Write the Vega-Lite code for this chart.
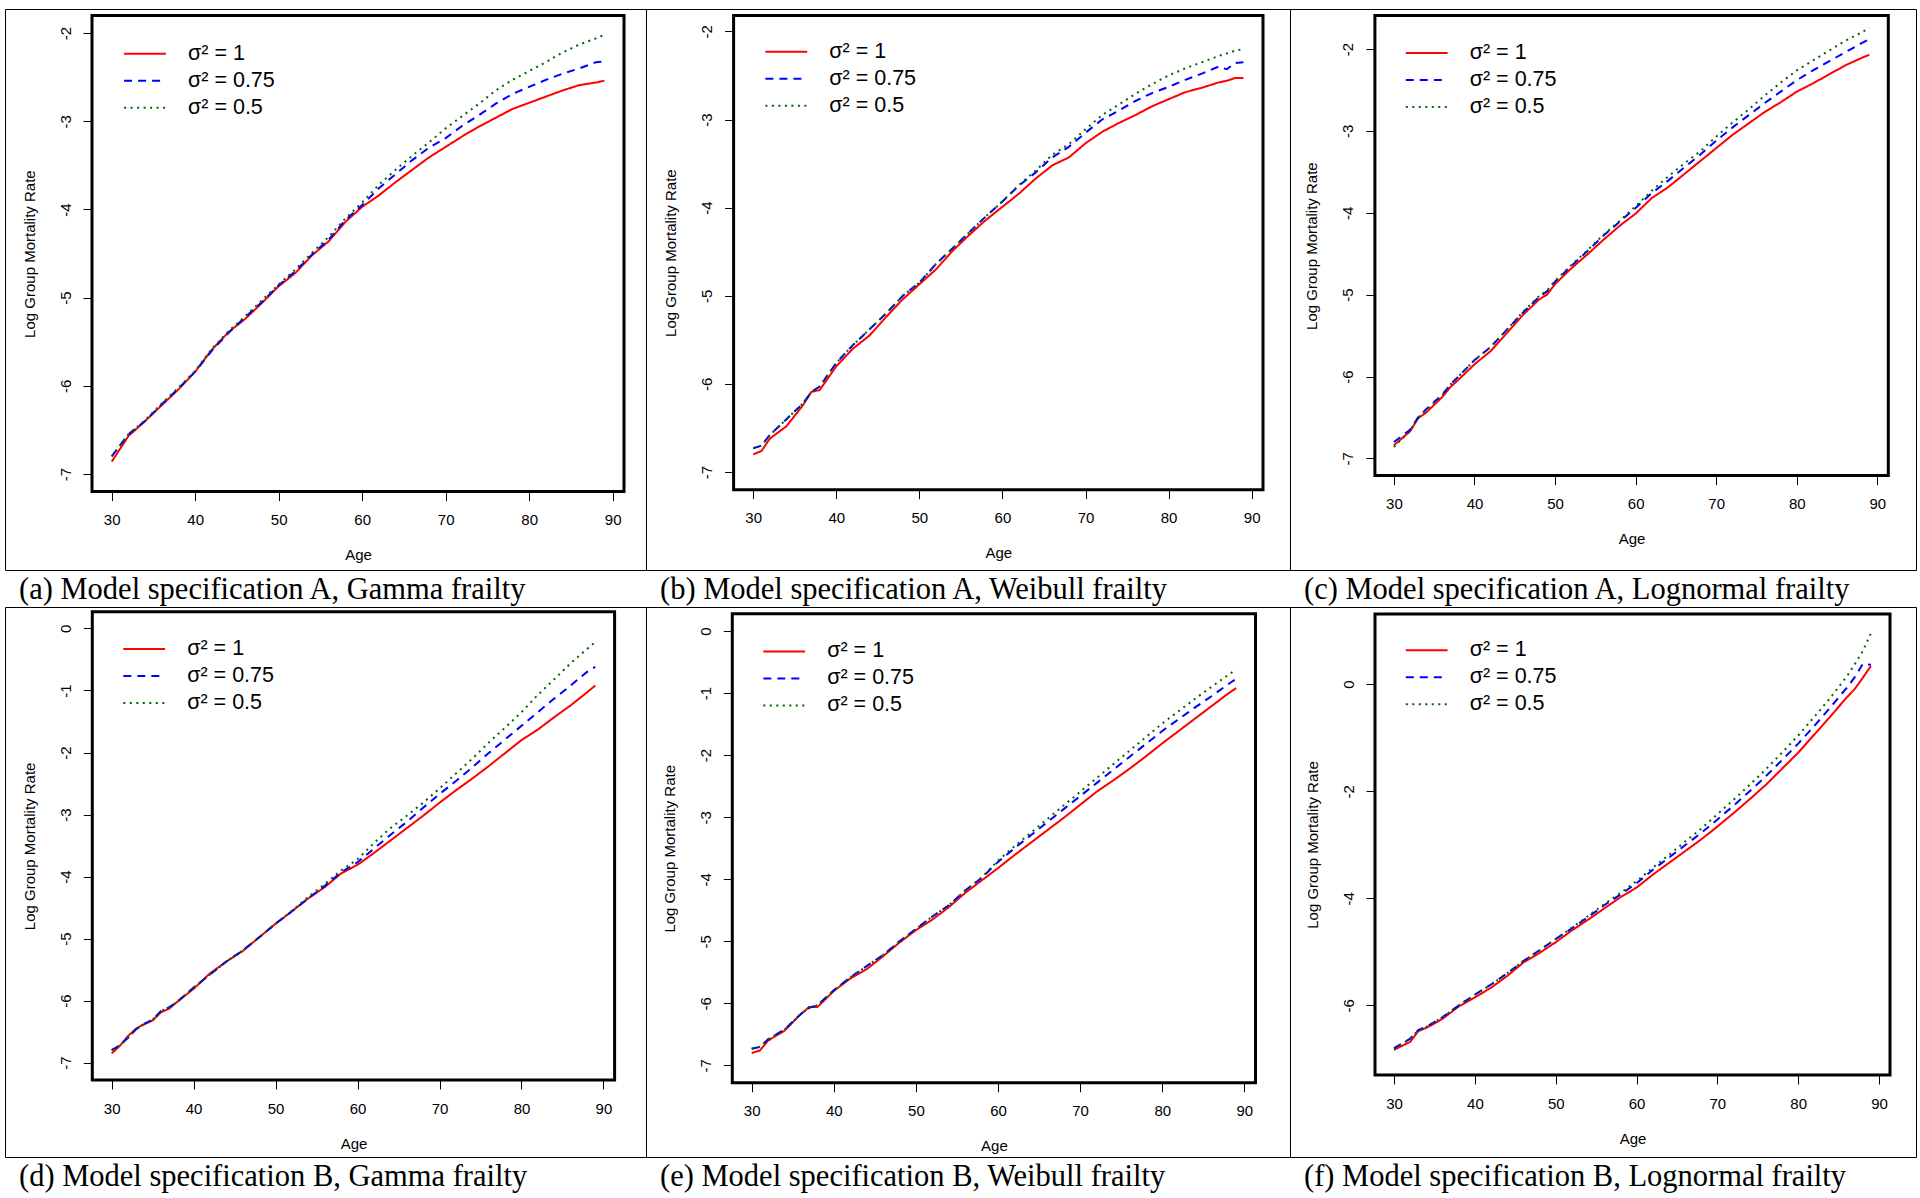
{
"$schema": "https://vega.github.io/schema/vega-lite/v6.json",
"background": "white",
"padding": {"left": 4, "top": 8, "right": 5, "bottom": 5},
"datasets": {
"lines": [
{"panel":"a","sigma":"1","age":30,"rate":-6.86},{"panel":"a","sigma":"1","age":32,"rate":-6.57},{"panel":"a","sigma":"1","age":34,"rate":-6.40},{"panel":"a","sigma":"1","age":36,"rate":-6.22},{"panel":"a","sigma":"1","age":38,"rate":-6.04},{"panel":"a","sigma":"1","age":40,"rate":-5.84},{"panel":"a","sigma":"1","age":42,"rate":-5.59},{"panel":"a","sigma":"1","age":44,"rate":-5.39},{"panel":"a","sigma":"1","age":46,"rate":-5.24},{"panel":"a","sigma":"1","age":48,"rate":-5.06},{"panel":"a","sigma":"1","age":50,"rate":-4.87},{"panel":"a","sigma":"1","age":52,"rate":-4.72},{"panel":"a","sigma":"1","age":54,"rate":-4.52},{"panel":"a","sigma":"1","age":56,"rate":-4.36},{"panel":"a","sigma":"1","age":58,"rate":-4.14},{"panel":"a","sigma":"1","age":60,"rate":-3.97},{"panel":"a","sigma":"1","age":62,"rate":-3.84},{"panel":"a","sigma":"1","age":64,"rate":-3.69},{"panel":"a","sigma":"1","age":66,"rate":-3.55},{"panel":"a","sigma":"1","age":68,"rate":-3.41},{"panel":"a","sigma":"1","age":70,"rate":-3.29},{"panel":"a","sigma":"1","age":72,"rate":-3.17},{"panel":"a","sigma":"1","age":74,"rate":-3.06},{"panel":"a","sigma":"1","age":76,"rate":-2.96},{"panel":"a","sigma":"1","age":78,"rate":-2.86},{"panel":"a","sigma":"1","age":80,"rate":-2.79},{"panel":"a","sigma":"1","age":82,"rate":-2.72},{"panel":"a","sigma":"1","age":84,"rate":-2.65},{"panel":"a","sigma":"1","age":86,"rate":-2.59},{"panel":"a","sigma":"1","age":88,"rate":-2.56},{"panel":"a","sigma":"1","age":89,"rate":-2.54},
{"panel":"a","sigma":"0.75","age":30,"rate":-6.80},{"panel":"a","sigma":"0.75","age":32,"rate":-6.55},{"panel":"a","sigma":"0.75","age":34,"rate":-6.40},{"panel":"a","sigma":"0.75","age":36,"rate":-6.21},{"panel":"a","sigma":"0.75","age":38,"rate":-6.03},{"panel":"a","sigma":"0.75","age":40,"rate":-5.84},{"panel":"a","sigma":"0.75","age":42,"rate":-5.60},{"panel":"a","sigma":"0.75","age":44,"rate":-5.40},{"panel":"a","sigma":"0.75","age":46,"rate":-5.22},{"panel":"a","sigma":"0.75","age":48,"rate":-5.05},{"panel":"a","sigma":"0.75","age":50,"rate":-4.86},{"panel":"a","sigma":"0.75","age":52,"rate":-4.70},{"panel":"a","sigma":"0.75","age":54,"rate":-4.51},{"panel":"a","sigma":"0.75","age":56,"rate":-4.34},{"panel":"a","sigma":"0.75","age":58,"rate":-4.12},{"panel":"a","sigma":"0.75","age":60,"rate":-3.95},{"panel":"a","sigma":"0.75","age":62,"rate":-3.76},{"panel":"a","sigma":"0.75","age":64,"rate":-3.60},{"panel":"a","sigma":"0.75","age":66,"rate":-3.44},{"panel":"a","sigma":"0.75","age":68,"rate":-3.30},{"panel":"a","sigma":"0.75","age":70,"rate":-3.19},{"panel":"a","sigma":"0.75","age":72,"rate":-3.05},{"panel":"a","sigma":"0.75","age":74,"rate":-2.93},{"panel":"a","sigma":"0.75","age":76,"rate":-2.80},{"panel":"a","sigma":"0.75","age":78,"rate":-2.69},{"panel":"a","sigma":"0.75","age":80,"rate":-2.61},{"panel":"a","sigma":"0.75","age":82,"rate":-2.53},{"panel":"a","sigma":"0.75","age":84,"rate":-2.46},{"panel":"a","sigma":"0.75","age":86,"rate":-2.40},{"panel":"a","sigma":"0.75","age":88,"rate":-2.33},{"panel":"a","sigma":"0.75","age":89,"rate":-2.32},
{"panel":"a","sigma":"0.5","age":30,"rate":-6.80},{"panel":"a","sigma":"0.5","age":32,"rate":-6.55},{"panel":"a","sigma":"0.5","age":34,"rate":-6.39},{"panel":"a","sigma":"0.5","age":36,"rate":-6.20},{"panel":"a","sigma":"0.5","age":38,"rate":-6.02},{"panel":"a","sigma":"0.5","age":40,"rate":-5.83},{"panel":"a","sigma":"0.5","age":42,"rate":-5.58},{"panel":"a","sigma":"0.5","age":44,"rate":-5.38},{"panel":"a","sigma":"0.5","age":46,"rate":-5.21},{"panel":"a","sigma":"0.5","age":48,"rate":-5.03},{"panel":"a","sigma":"0.5","age":50,"rate":-4.85},{"panel":"a","sigma":"0.5","age":52,"rate":-4.68},{"panel":"a","sigma":"0.5","age":54,"rate":-4.49},{"panel":"a","sigma":"0.5","age":56,"rate":-4.31},{"panel":"a","sigma":"0.5","age":58,"rate":-4.10},{"panel":"a","sigma":"0.5","age":60,"rate":-3.92},{"panel":"a","sigma":"0.5","age":62,"rate":-3.72},{"panel":"a","sigma":"0.5","age":64,"rate":-3.55},{"panel":"a","sigma":"0.5","age":66,"rate":-3.39},{"panel":"a","sigma":"0.5","age":68,"rate":-3.24},{"panel":"a","sigma":"0.5","age":70,"rate":-3.08},{"panel":"a","sigma":"0.5","age":72,"rate":-2.94},{"panel":"a","sigma":"0.5","age":74,"rate":-2.80},{"panel":"a","sigma":"0.5","age":76,"rate":-2.65},{"panel":"a","sigma":"0.5","age":78,"rate":-2.53},{"panel":"a","sigma":"0.5","age":80,"rate":-2.43},{"panel":"a","sigma":"0.5","age":82,"rate":-2.33},{"panel":"a","sigma":"0.5","age":84,"rate":-2.22},{"panel":"a","sigma":"0.5","age":86,"rate":-2.13},{"panel":"a","sigma":"0.5","age":88,"rate":-2.06},{"panel":"a","sigma":"0.5","age":89,"rate":-2.02},
{"panel":"b","sigma":"1","age":30,"rate":-6.80},{"panel":"b","sigma":"1","age":31,"rate":-6.76},{"panel":"b","sigma":"1","age":32,"rate":-6.62},{"panel":"b","sigma":"1","age":34,"rate":-6.48},{"panel":"b","sigma":"1","age":36,"rate":-6.24},{"panel":"b","sigma":"1","age":37,"rate":-6.09},{"panel":"b","sigma":"1","age":38,"rate":-6.07},{"panel":"b","sigma":"1","age":40,"rate":-5.80},{"panel":"b","sigma":"1","age":42,"rate":-5.60},{"panel":"b","sigma":"1","age":44,"rate":-5.45},{"panel":"b","sigma":"1","age":46,"rate":-5.24},{"panel":"b","sigma":"1","age":48,"rate":-5.04},{"panel":"b","sigma":"1","age":50,"rate":-4.87},{"panel":"b","sigma":"1","age":52,"rate":-4.70},{"panel":"b","sigma":"1","age":54,"rate":-4.49},{"panel":"b","sigma":"1","age":56,"rate":-4.31},{"panel":"b","sigma":"1","age":58,"rate":-4.14},{"panel":"b","sigma":"1","age":60,"rate":-3.99},{"panel":"b","sigma":"1","age":62,"rate":-3.84},{"panel":"b","sigma":"1","age":64,"rate":-3.67},{"panel":"b","sigma":"1","age":66,"rate":-3.52},{"panel":"b","sigma":"1","age":68,"rate":-3.43},{"panel":"b","sigma":"1","age":70,"rate":-3.27},{"panel":"b","sigma":"1","age":72,"rate":-3.14},{"panel":"b","sigma":"1","age":74,"rate":-3.04},{"panel":"b","sigma":"1","age":76,"rate":-2.95},{"panel":"b","sigma":"1","age":78,"rate":-2.85},{"panel":"b","sigma":"1","age":80,"rate":-2.77},{"panel":"b","sigma":"1","age":82,"rate":-2.69},{"panel":"b","sigma":"1","age":84,"rate":-2.64},{"panel":"b","sigma":"1","age":86,"rate":-2.58},{"panel":"b","sigma":"1","age":87,"rate":-2.56},{"panel":"b","sigma":"1","age":88,"rate":-2.53},{"panel":"b","sigma":"1","age":89,"rate":-2.53},
{"panel":"b","sigma":"0.75","age":30,"rate":-6.73},{"panel":"b","sigma":"0.75","age":31,"rate":-6.70},{"panel":"b","sigma":"0.75","age":32,"rate":-6.58},{"panel":"b","sigma":"0.75","age":34,"rate":-6.40},{"panel":"b","sigma":"0.75","age":36,"rate":-6.22},{"panel":"b","sigma":"0.75","age":37,"rate":-6.09},{"panel":"b","sigma":"0.75","age":38,"rate":-6.03},{"panel":"b","sigma":"0.75","age":40,"rate":-5.76},{"panel":"b","sigma":"0.75","age":42,"rate":-5.56},{"panel":"b","sigma":"0.75","age":44,"rate":-5.38},{"panel":"b","sigma":"0.75","age":46,"rate":-5.20},{"panel":"b","sigma":"0.75","age":48,"rate":-5.00},{"panel":"b","sigma":"0.75","age":50,"rate":-4.85},{"panel":"b","sigma":"0.75","age":52,"rate":-4.64},{"panel":"b","sigma":"0.75","age":54,"rate":-4.46},{"panel":"b","sigma":"0.75","age":56,"rate":-4.28},{"panel":"b","sigma":"0.75","age":58,"rate":-4.10},{"panel":"b","sigma":"0.75","age":60,"rate":-3.93},{"panel":"b","sigma":"0.75","age":62,"rate":-3.75},{"panel":"b","sigma":"0.75","age":64,"rate":-3.60},{"panel":"b","sigma":"0.75","age":66,"rate":-3.43},{"panel":"b","sigma":"0.75","age":68,"rate":-3.31},{"panel":"b","sigma":"0.75","age":70,"rate":-3.15},{"panel":"b","sigma":"0.75","age":72,"rate":-3.00},{"panel":"b","sigma":"0.75","age":74,"rate":-2.90},{"panel":"b","sigma":"0.75","age":76,"rate":-2.79},{"panel":"b","sigma":"0.75","age":78,"rate":-2.70},{"panel":"b","sigma":"0.75","age":80,"rate":-2.63},{"panel":"b","sigma":"0.75","age":82,"rate":-2.55},{"panel":"b","sigma":"0.75","age":84,"rate":-2.48},{"panel":"b","sigma":"0.75","age":86,"rate":-2.40},{"panel":"b","sigma":"0.75","age":87,"rate":-2.43},{"panel":"b","sigma":"0.75","age":88,"rate":-2.36},{"panel":"b","sigma":"0.75","age":89,"rate":-2.35},
{"panel":"b","sigma":"0.5","age":30,"rate":-6.73},{"panel":"b","sigma":"0.5","age":31,"rate":-6.70},{"panel":"b","sigma":"0.5","age":32,"rate":-6.58},{"panel":"b","sigma":"0.5","age":34,"rate":-6.40},{"panel":"b","sigma":"0.5","age":36,"rate":-6.22},{"panel":"b","sigma":"0.5","age":37,"rate":-6.09},{"panel":"b","sigma":"0.5","age":38,"rate":-6.03},{"panel":"b","sigma":"0.5","age":40,"rate":-5.76},{"panel":"b","sigma":"0.5","age":42,"rate":-5.56},{"panel":"b","sigma":"0.5","age":44,"rate":-5.38},{"panel":"b","sigma":"0.5","age":46,"rate":-5.20},{"panel":"b","sigma":"0.5","age":48,"rate":-5.00},{"panel":"b","sigma":"0.5","age":50,"rate":-4.85},{"panel":"b","sigma":"0.5","age":52,"rate":-4.64},{"panel":"b","sigma":"0.5","age":54,"rate":-4.46},{"panel":"b","sigma":"0.5","age":56,"rate":-4.28},{"panel":"b","sigma":"0.5","age":58,"rate":-4.10},{"panel":"b","sigma":"0.5","age":60,"rate":-3.93},{"panel":"b","sigma":"0.5","age":62,"rate":-3.74},{"panel":"b","sigma":"0.5","age":64,"rate":-3.58},{"panel":"b","sigma":"0.5","age":66,"rate":-3.40},{"panel":"b","sigma":"0.5","age":68,"rate":-3.28},{"panel":"b","sigma":"0.5","age":70,"rate":-3.11},{"panel":"b","sigma":"0.5","age":72,"rate":-2.95},{"panel":"b","sigma":"0.5","age":74,"rate":-2.83},{"panel":"b","sigma":"0.5","age":76,"rate":-2.71},{"panel":"b","sigma":"0.5","age":78,"rate":-2.60},{"panel":"b","sigma":"0.5","age":80,"rate":-2.50},{"panel":"b","sigma":"0.5","age":82,"rate":-2.42},{"panel":"b","sigma":"0.5","age":84,"rate":-2.35},{"panel":"b","sigma":"0.5","age":86,"rate":-2.28},{"panel":"b","sigma":"0.5","age":87,"rate":-2.25},{"panel":"b","sigma":"0.5","age":88,"rate":-2.22},{"panel":"b","sigma":"0.5","age":89,"rate":-2.20},
{"panel":"c","sigma":"1","age":30,"rate":-6.84},{"panel":"c","sigma":"1","age":32,"rate":-6.67},{"panel":"c","sigma":"1","age":33,"rate":-6.51},{"panel":"c","sigma":"1","age":34,"rate":-6.44},{"panel":"c","sigma":"1","age":36,"rate":-6.25},{"panel":"c","sigma":"1","age":37,"rate":-6.13},{"panel":"c","sigma":"1","age":38,"rate":-6.04},{"panel":"c","sigma":"1","age":40,"rate":-5.85},{"panel":"c","sigma":"1","age":42,"rate":-5.69},{"panel":"c","sigma":"1","age":44,"rate":-5.47},{"panel":"c","sigma":"1","age":46,"rate":-5.25},{"panel":"c","sigma":"1","age":48,"rate":-5.06},{"panel":"c","sigma":"1","age":49,"rate":-5.00},{"panel":"c","sigma":"1","age":50,"rate":-4.87},{"panel":"c","sigma":"1","age":52,"rate":-4.68},{"panel":"c","sigma":"1","age":54,"rate":-4.51},{"panel":"c","sigma":"1","age":56,"rate":-4.33},{"panel":"c","sigma":"1","age":58,"rate":-4.16},{"panel":"c","sigma":"1","age":60,"rate":-4.01},{"panel":"c","sigma":"1","age":62,"rate":-3.82},{"panel":"c","sigma":"1","age":64,"rate":-3.69},{"panel":"c","sigma":"1","age":66,"rate":-3.53},{"panel":"c","sigma":"1","age":68,"rate":-3.37},{"panel":"c","sigma":"1","age":70,"rate":-3.21},{"panel":"c","sigma":"1","age":72,"rate":-3.05},{"panel":"c","sigma":"1","age":74,"rate":-2.91},{"panel":"c","sigma":"1","age":76,"rate":-2.77},{"panel":"c","sigma":"1","age":78,"rate":-2.65},{"panel":"c","sigma":"1","age":80,"rate":-2.52},{"panel":"c","sigma":"1","age":82,"rate":-2.42},{"panel":"c","sigma":"1","age":84,"rate":-2.31},{"panel":"c","sigma":"1","age":86,"rate":-2.20},{"panel":"c","sigma":"1","age":88,"rate":-2.11},{"panel":"c","sigma":"1","age":89,"rate":-2.07},
{"panel":"c","sigma":"0.75","age":30,"rate":-6.80},{"panel":"c","sigma":"0.75","age":32,"rate":-6.65},{"panel":"c","sigma":"0.75","age":33,"rate":-6.50},{"panel":"c","sigma":"0.75","age":34,"rate":-6.40},{"panel":"c","sigma":"0.75","age":36,"rate":-6.22},{"panel":"c","sigma":"0.75","age":37,"rate":-6.10},{"panel":"c","sigma":"0.75","age":38,"rate":-6.00},{"panel":"c","sigma":"0.75","age":40,"rate":-5.80},{"panel":"c","sigma":"0.75","age":42,"rate":-5.64},{"panel":"c","sigma":"0.75","age":44,"rate":-5.43},{"panel":"c","sigma":"0.75","age":46,"rate":-5.22},{"panel":"c","sigma":"0.75","age":48,"rate":-5.03},{"panel":"c","sigma":"0.75","age":49,"rate":-4.96},{"panel":"c","sigma":"0.75","age":50,"rate":-4.84},{"panel":"c","sigma":"0.75","age":52,"rate":-4.65},{"panel":"c","sigma":"0.75","age":54,"rate":-4.47},{"panel":"c","sigma":"0.75","age":56,"rate":-4.28},{"panel":"c","sigma":"0.75","age":58,"rate":-4.11},{"panel":"c","sigma":"0.75","age":60,"rate":-3.94},{"panel":"c","sigma":"0.75","age":62,"rate":-3.76},{"panel":"c","sigma":"0.75","age":64,"rate":-3.61},{"panel":"c","sigma":"0.75","age":66,"rate":-3.45},{"panel":"c","sigma":"0.75","age":68,"rate":-3.29},{"panel":"c","sigma":"0.75","age":70,"rate":-3.12},{"panel":"c","sigma":"0.75","age":72,"rate":-2.96},{"panel":"c","sigma":"0.75","age":74,"rate":-2.81},{"panel":"c","sigma":"0.75","age":76,"rate":-2.66},{"panel":"c","sigma":"0.75","age":78,"rate":-2.52},{"panel":"c","sigma":"0.75","age":80,"rate":-2.38},{"panel":"c","sigma":"0.75","age":82,"rate":-2.26},{"panel":"c","sigma":"0.75","age":84,"rate":-2.15},{"panel":"c","sigma":"0.75","age":86,"rate":-2.04},{"panel":"c","sigma":"0.75","age":88,"rate":-1.93},{"panel":"c","sigma":"0.75","age":89,"rate":-1.88},
{"panel":"c","sigma":"0.5","age":30,"rate":-6.86},{"panel":"c","sigma":"0.5","age":32,"rate":-6.66},{"panel":"c","sigma":"0.5","age":33,"rate":-6.50},{"panel":"c","sigma":"0.5","age":34,"rate":-6.41},{"panel":"c","sigma":"0.5","age":36,"rate":-6.23},{"panel":"c","sigma":"0.5","age":37,"rate":-6.10},{"panel":"c","sigma":"0.5","age":38,"rate":-6.00},{"panel":"c","sigma":"0.5","age":40,"rate":-5.80},{"panel":"c","sigma":"0.5","age":42,"rate":-5.64},{"panel":"c","sigma":"0.5","age":44,"rate":-5.43},{"panel":"c","sigma":"0.5","age":46,"rate":-5.21},{"panel":"c","sigma":"0.5","age":48,"rate":-5.02},{"panel":"c","sigma":"0.5","age":49,"rate":-4.95},{"panel":"c","sigma":"0.5","age":50,"rate":-4.83},{"panel":"c","sigma":"0.5","age":52,"rate":-4.64},{"panel":"c","sigma":"0.5","age":54,"rate":-4.46},{"panel":"c","sigma":"0.5","age":56,"rate":-4.27},{"panel":"c","sigma":"0.5","age":58,"rate":-4.10},{"panel":"c","sigma":"0.5","age":60,"rate":-3.92},{"panel":"c","sigma":"0.5","age":62,"rate":-3.73},{"panel":"c","sigma":"0.5","age":64,"rate":-3.56},{"panel":"c","sigma":"0.5","age":66,"rate":-3.40},{"panel":"c","sigma":"0.5","age":68,"rate":-3.25},{"panel":"c","sigma":"0.5","age":70,"rate":-3.07},{"panel":"c","sigma":"0.5","age":72,"rate":-2.90},{"panel":"c","sigma":"0.5","age":74,"rate":-2.74},{"panel":"c","sigma":"0.5","age":76,"rate":-2.57},{"panel":"c","sigma":"0.5","age":78,"rate":-2.41},{"panel":"c","sigma":"0.5","age":80,"rate":-2.26},{"panel":"c","sigma":"0.5","age":82,"rate":-2.14},{"panel":"c","sigma":"0.5","age":84,"rate":-2.02},{"panel":"c","sigma":"0.5","age":86,"rate":-1.90},{"panel":"c","sigma":"0.5","age":88,"rate":-1.80},{"panel":"c","sigma":"0.5","age":89,"rate":-1.74},
{"panel":"d","sigma":"1","age":30,"rate":-6.85},{"panel":"d","sigma":"1","age":31,"rate":-6.73},{"panel":"d","sigma":"1","age":32,"rate":-6.57},{"panel":"d","sigma":"1","age":33,"rate":-6.45},{"panel":"d","sigma":"1","age":34,"rate":-6.38},{"panel":"d","sigma":"1","age":35,"rate":-6.32},{"panel":"d","sigma":"1","age":36,"rate":-6.19},{"panel":"d","sigma":"1","age":37,"rate":-6.13},{"panel":"d","sigma":"1","age":38,"rate":-6.02},{"panel":"d","sigma":"1","age":40,"rate":-5.81},{"panel":"d","sigma":"1","age":42,"rate":-5.56},{"panel":"d","sigma":"1","age":44,"rate":-5.37},{"panel":"d","sigma":"1","age":46,"rate":-5.20},{"panel":"d","sigma":"1","age":48,"rate":-4.98},{"panel":"d","sigma":"1","age":50,"rate":-4.76},{"panel":"d","sigma":"1","age":52,"rate":-4.56},{"panel":"d","sigma":"1","age":54,"rate":-4.35},{"panel":"d","sigma":"1","age":56,"rate":-4.17},{"panel":"d","sigma":"1","age":58,"rate":-3.95},{"panel":"d","sigma":"1","age":60,"rate":-3.81},{"panel":"d","sigma":"1","age":62,"rate":-3.62},{"panel":"d","sigma":"1","age":64,"rate":-3.42},{"panel":"d","sigma":"1","age":66,"rate":-3.22},{"panel":"d","sigma":"1","age":68,"rate":-3.02},{"panel":"d","sigma":"1","age":70,"rate":-2.81},{"panel":"d","sigma":"1","age":72,"rate":-2.61},{"panel":"d","sigma":"1","age":74,"rate":-2.42},{"panel":"d","sigma":"1","age":76,"rate":-2.22},{"panel":"d","sigma":"1","age":78,"rate":-2.01},{"panel":"d","sigma":"1","age":80,"rate":-1.80},{"panel":"d","sigma":"1","age":82,"rate":-1.63},{"panel":"d","sigma":"1","age":84,"rate":-1.43},{"panel":"d","sigma":"1","age":86,"rate":-1.24},{"panel":"d","sigma":"1","age":88,"rate":-1.03},{"panel":"d","sigma":"1","age":89,"rate":-0.92},
{"panel":"d","sigma":"0.75","age":30,"rate":-6.80},{"panel":"d","sigma":"0.75","age":31,"rate":-6.72},{"panel":"d","sigma":"0.75","age":32,"rate":-6.60},{"panel":"d","sigma":"0.75","age":33,"rate":-6.46},{"panel":"d","sigma":"0.75","age":34,"rate":-6.37},{"panel":"d","sigma":"0.75","age":35,"rate":-6.31},{"panel":"d","sigma":"0.75","age":36,"rate":-6.17},{"panel":"d","sigma":"0.75","age":37,"rate":-6.11},{"panel":"d","sigma":"0.75","age":38,"rate":-6.02},{"panel":"d","sigma":"0.75","age":40,"rate":-5.79},{"panel":"d","sigma":"0.75","age":42,"rate":-5.58},{"panel":"d","sigma":"0.75","age":44,"rate":-5.37},{"panel":"d","sigma":"0.75","age":46,"rate":-5.19},{"panel":"d","sigma":"0.75","age":48,"rate":-4.98},{"panel":"d","sigma":"0.75","age":50,"rate":-4.76},{"panel":"d","sigma":"0.75","age":52,"rate":-4.56},{"panel":"d","sigma":"0.75","age":54,"rate":-4.35},{"panel":"d","sigma":"0.75","age":56,"rate":-4.15},{"panel":"d","sigma":"0.75","age":58,"rate":-3.93},{"panel":"d","sigma":"0.75","age":60,"rate":-3.77},{"panel":"d","sigma":"0.75","age":62,"rate":-3.55},{"panel":"d","sigma":"0.75","age":64,"rate":-3.33},{"panel":"d","sigma":"0.75","age":66,"rate":-3.12},{"panel":"d","sigma":"0.75","age":68,"rate":-2.89},{"panel":"d","sigma":"0.75","age":70,"rate":-2.67},{"panel":"d","sigma":"0.75","age":72,"rate":-2.46},{"panel":"d","sigma":"0.75","age":74,"rate":-2.24},{"panel":"d","sigma":"0.75","age":76,"rate":-2.01},{"panel":"d","sigma":"0.75","age":78,"rate":-1.79},{"panel":"d","sigma":"0.75","age":80,"rate":-1.57},{"panel":"d","sigma":"0.75","age":82,"rate":-1.35},{"panel":"d","sigma":"0.75","age":84,"rate":-1.13},{"panel":"d","sigma":"0.75","age":86,"rate":-0.92},{"panel":"d","sigma":"0.75","age":88,"rate":-0.70},{"panel":"d","sigma":"0.75","age":89,"rate":-0.62},
{"panel":"d","sigma":"0.5","age":30,"rate":-6.80},{"panel":"d","sigma":"0.5","age":31,"rate":-6.72},{"panel":"d","sigma":"0.5","age":32,"rate":-6.60},{"panel":"d","sigma":"0.5","age":33,"rate":-6.46},{"panel":"d","sigma":"0.5","age":34,"rate":-6.37},{"panel":"d","sigma":"0.5","age":35,"rate":-6.31},{"panel":"d","sigma":"0.5","age":36,"rate":-6.17},{"panel":"d","sigma":"0.5","age":37,"rate":-6.11},{"panel":"d","sigma":"0.5","age":38,"rate":-6.02},{"panel":"d","sigma":"0.5","age":40,"rate":-5.79},{"panel":"d","sigma":"0.5","age":42,"rate":-5.58},{"panel":"d","sigma":"0.5","age":44,"rate":-5.37},{"panel":"d","sigma":"0.5","age":46,"rate":-5.19},{"panel":"d","sigma":"0.5","age":48,"rate":-4.98},{"panel":"d","sigma":"0.5","age":50,"rate":-4.76},{"panel":"d","sigma":"0.5","age":52,"rate":-4.55},{"panel":"d","sigma":"0.5","age":54,"rate":-4.33},{"panel":"d","sigma":"0.5","age":56,"rate":-4.12},{"panel":"d","sigma":"0.5","age":58,"rate":-3.90},{"panel":"d","sigma":"0.5","age":60,"rate":-3.72},{"panel":"d","sigma":"0.5","age":62,"rate":-3.46},{"panel":"d","sigma":"0.5","age":64,"rate":-3.22},{"panel":"d","sigma":"0.5","age":66,"rate":-3.02},{"panel":"d","sigma":"0.5","age":68,"rate":-2.81},{"panel":"d","sigma":"0.5","age":70,"rate":-2.58},{"panel":"d","sigma":"0.5","age":72,"rate":-2.34},{"panel":"d","sigma":"0.5","age":74,"rate":-2.10},{"panel":"d","sigma":"0.5","age":76,"rate":-1.84},{"panel":"d","sigma":"0.5","age":78,"rate":-1.60},{"panel":"d","sigma":"0.5","age":80,"rate":-1.35},{"panel":"d","sigma":"0.5","age":82,"rate":-1.07},{"panel":"d","sigma":"0.5","age":84,"rate":-0.82},{"panel":"d","sigma":"0.5","age":86,"rate":-0.56},{"panel":"d","sigma":"0.5","age":88,"rate":-0.33},{"panel":"d","sigma":"0.5","age":89,"rate":-0.22},
{"panel":"e","sigma":"1","age":30,"rate":-6.80},{"panel":"e","sigma":"1","age":31,"rate":-6.76},{"panel":"e","sigma":"1","age":32,"rate":-6.60},{"panel":"e","sigma":"1","age":34,"rate":-6.44},{"panel":"e","sigma":"1","age":36,"rate":-6.17},{"panel":"e","sigma":"1","age":37,"rate":-6.06},{"panel":"e","sigma":"1","age":38,"rate":-6.06},{"panel":"e","sigma":"1","age":40,"rate":-5.80},{"panel":"e","sigma":"1","age":42,"rate":-5.60},{"panel":"e","sigma":"1","age":44,"rate":-5.45},{"panel":"e","sigma":"1","age":46,"rate":-5.24},{"panel":"e","sigma":"1","age":48,"rate":-5.02},{"panel":"e","sigma":"1","age":50,"rate":-4.82},{"panel":"e","sigma":"1","age":52,"rate":-4.65},{"panel":"e","sigma":"1","age":54,"rate":-4.45},{"panel":"e","sigma":"1","age":56,"rate":-4.22},{"panel":"e","sigma":"1","age":58,"rate":-4.02},{"panel":"e","sigma":"1","age":60,"rate":-3.82},{"panel":"e","sigma":"1","age":62,"rate":-3.61},{"panel":"e","sigma":"1","age":64,"rate":-3.41},{"panel":"e","sigma":"1","age":66,"rate":-3.21},{"panel":"e","sigma":"1","age":68,"rate":-3.01},{"panel":"e","sigma":"1","age":70,"rate":-2.80},{"panel":"e","sigma":"1","age":72,"rate":-2.59},{"panel":"e","sigma":"1","age":74,"rate":-2.41},{"panel":"e","sigma":"1","age":76,"rate":-2.22},{"panel":"e","sigma":"1","age":78,"rate":-2.02},{"panel":"e","sigma":"1","age":80,"rate":-1.81},{"panel":"e","sigma":"1","age":82,"rate":-1.61},{"panel":"e","sigma":"1","age":84,"rate":-1.41},{"panel":"e","sigma":"1","age":86,"rate":-1.21},{"panel":"e","sigma":"1","age":88,"rate":-1.01},{"panel":"e","sigma":"1","age":89,"rate":-0.92},
{"panel":"e","sigma":"0.75","age":30,"rate":-6.73},{"panel":"e","sigma":"0.75","age":31,"rate":-6.70},{"panel":"e","sigma":"0.75","age":32,"rate":-6.58},{"panel":"e","sigma":"0.75","age":34,"rate":-6.42},{"panel":"e","sigma":"0.75","age":36,"rate":-6.17},{"panel":"e","sigma":"0.75","age":37,"rate":-6.07},{"panel":"e","sigma":"0.75","age":38,"rate":-6.03},{"panel":"e","sigma":"0.75","age":40,"rate":-5.79},{"panel":"e","sigma":"0.75","age":42,"rate":-5.58},{"panel":"e","sigma":"0.75","age":44,"rate":-5.40},{"panel":"e","sigma":"0.75","age":46,"rate":-5.22},{"panel":"e","sigma":"0.75","age":48,"rate":-5.00},{"panel":"e","sigma":"0.75","age":50,"rate":-4.80},{"panel":"e","sigma":"0.75","age":52,"rate":-4.60},{"panel":"e","sigma":"0.75","age":54,"rate":-4.42},{"panel":"e","sigma":"0.75","age":56,"rate":-4.18},{"panel":"e","sigma":"0.75","age":58,"rate":-3.98},{"panel":"e","sigma":"0.75","age":60,"rate":-3.72},{"panel":"e","sigma":"0.75","age":62,"rate":-3.50},{"panel":"e","sigma":"0.75","age":64,"rate":-3.29},{"panel":"e","sigma":"0.75","age":66,"rate":-3.08},{"panel":"e","sigma":"0.75","age":68,"rate":-2.87},{"panel":"e","sigma":"0.75","age":70,"rate":-2.66},{"panel":"e","sigma":"0.75","age":72,"rate":-2.45},{"panel":"e","sigma":"0.75","age":74,"rate":-2.24},{"panel":"e","sigma":"0.75","age":76,"rate":-2.03},{"panel":"e","sigma":"0.75","age":78,"rate":-1.82},{"panel":"e","sigma":"0.75","age":80,"rate":-1.61},{"panel":"e","sigma":"0.75","age":82,"rate":-1.42},{"panel":"e","sigma":"0.75","age":84,"rate":-1.23},{"panel":"e","sigma":"0.75","age":86,"rate":-1.05},{"panel":"e","sigma":"0.75","age":88,"rate":-0.86},{"panel":"e","sigma":"0.75","age":89,"rate":-0.77},
{"panel":"e","sigma":"0.5","age":30,"rate":-6.73},{"panel":"e","sigma":"0.5","age":31,"rate":-6.70},{"panel":"e","sigma":"0.5","age":32,"rate":-6.58},{"panel":"e","sigma":"0.5","age":34,"rate":-6.42},{"panel":"e","sigma":"0.5","age":36,"rate":-6.17},{"panel":"e","sigma":"0.5","age":37,"rate":-6.07},{"panel":"e","sigma":"0.5","age":38,"rate":-6.03},{"panel":"e","sigma":"0.5","age":40,"rate":-5.79},{"panel":"e","sigma":"0.5","age":42,"rate":-5.58},{"panel":"e","sigma":"0.5","age":44,"rate":-5.40},{"panel":"e","sigma":"0.5","age":46,"rate":-5.22},{"panel":"e","sigma":"0.5","age":48,"rate":-5.00},{"panel":"e","sigma":"0.5","age":50,"rate":-4.80},{"panel":"e","sigma":"0.5","age":52,"rate":-4.60},{"panel":"e","sigma":"0.5","age":54,"rate":-4.42},{"panel":"e","sigma":"0.5","age":56,"rate":-4.18},{"panel":"e","sigma":"0.5","age":58,"rate":-3.97},{"panel":"e","sigma":"0.5","age":60,"rate":-3.70},{"panel":"e","sigma":"0.5","age":62,"rate":-3.47},{"panel":"e","sigma":"0.5","age":64,"rate":-3.25},{"panel":"e","sigma":"0.5","age":66,"rate":-3.03},{"panel":"e","sigma":"0.5","age":68,"rate":-2.81},{"panel":"e","sigma":"0.5","age":70,"rate":-2.59},{"panel":"e","sigma":"0.5","age":72,"rate":-2.37},{"panel":"e","sigma":"0.5","age":74,"rate":-2.15},{"panel":"e","sigma":"0.5","age":76,"rate":-1.93},{"panel":"e","sigma":"0.5","age":78,"rate":-1.71},{"panel":"e","sigma":"0.5","age":80,"rate":-1.49},{"panel":"e","sigma":"0.5","age":82,"rate":-1.29},{"panel":"e","sigma":"0.5","age":84,"rate":-1.09},{"panel":"e","sigma":"0.5","age":86,"rate":-0.90},{"panel":"e","sigma":"0.5","age":88,"rate":-0.71},{"panel":"e","sigma":"0.5","age":89,"rate":-0.62},
{"panel":"f","sigma":"1","age":30,"rate":-6.83},{"panel":"f","sigma":"1","age":32,"rate":-6.68},{"panel":"f","sigma":"1","age":33,"rate":-6.48},{"panel":"f","sigma":"1","age":34,"rate":-6.42},{"panel":"f","sigma":"1","age":36,"rate":-6.25},{"panel":"f","sigma":"1","age":38,"rate":-6.02},{"panel":"f","sigma":"1","age":40,"rate":-5.85},{"panel":"f","sigma":"1","age":42,"rate":-5.67},{"panel":"f","sigma":"1","age":44,"rate":-5.45},{"panel":"f","sigma":"1","age":46,"rate":-5.20},{"panel":"f","sigma":"1","age":48,"rate":-5.02},{"panel":"f","sigma":"1","age":50,"rate":-4.82},{"panel":"f","sigma":"1","age":52,"rate":-4.60},{"panel":"f","sigma":"1","age":54,"rate":-4.40},{"panel":"f","sigma":"1","age":56,"rate":-4.19},{"panel":"f","sigma":"1","age":58,"rate":-3.98},{"panel":"f","sigma":"1","age":60,"rate":-3.80},{"panel":"f","sigma":"1","age":62,"rate":-3.56},{"panel":"f","sigma":"1","age":64,"rate":-3.34},{"panel":"f","sigma":"1","age":66,"rate":-3.12},{"panel":"f","sigma":"1","age":68,"rate":-2.90},{"panel":"f","sigma":"1","age":70,"rate":-2.66},{"panel":"f","sigma":"1","age":72,"rate":-2.41},{"panel":"f","sigma":"1","age":74,"rate":-2.15},{"panel":"f","sigma":"1","age":76,"rate":-1.88},{"panel":"f","sigma":"1","age":78,"rate":-1.58},{"panel":"f","sigma":"1","age":80,"rate":-1.28},{"panel":"f","sigma":"1","age":82,"rate":-0.94},{"panel":"f","sigma":"1","age":84,"rate":-0.60},{"panel":"f","sigma":"1","age":86,"rate":-0.25},{"panel":"f","sigma":"1","age":87,"rate":-0.09},{"panel":"f","sigma":"1","age":88,"rate":0.12},{"panel":"f","sigma":"1","age":89,"rate":0.34},
{"panel":"f","sigma":"0.75","age":30,"rate":-6.80},{"panel":"f","sigma":"0.75","age":32,"rate":-6.62},{"panel":"f","sigma":"0.75","age":33,"rate":-6.46},{"panel":"f","sigma":"0.75","age":34,"rate":-6.40},{"panel":"f","sigma":"0.75","age":36,"rate":-6.22},{"panel":"f","sigma":"0.75","age":38,"rate":-6.00},{"panel":"f","sigma":"0.75","age":40,"rate":-5.80},{"panel":"f","sigma":"0.75","age":42,"rate":-5.61},{"panel":"f","sigma":"0.75","age":44,"rate":-5.40},{"panel":"f","sigma":"0.75","age":46,"rate":-5.17},{"panel":"f","sigma":"0.75","age":48,"rate":-4.97},{"panel":"f","sigma":"0.75","age":50,"rate":-4.76},{"panel":"f","sigma":"0.75","age":52,"rate":-4.56},{"panel":"f","sigma":"0.75","age":54,"rate":-4.35},{"panel":"f","sigma":"0.75","age":56,"rate":-4.13},{"panel":"f","sigma":"0.75","age":58,"rate":-3.93},{"panel":"f","sigma":"0.75","age":60,"rate":-3.72},{"panel":"f","sigma":"0.75","age":62,"rate":-3.47},{"panel":"f","sigma":"0.75","age":64,"rate":-3.24},{"panel":"f","sigma":"0.75","age":66,"rate":-3.01},{"panel":"f","sigma":"0.75","age":68,"rate":-2.78},{"panel":"f","sigma":"0.75","age":70,"rate":-2.53},{"panel":"f","sigma":"0.75","age":72,"rate":-2.27},{"panel":"f","sigma":"0.75","age":74,"rate":-2.00},{"panel":"f","sigma":"0.75","age":76,"rate":-1.72},{"panel":"f","sigma":"0.75","age":78,"rate":-1.42},{"panel":"f","sigma":"0.75","age":80,"rate":-1.11},{"panel":"f","sigma":"0.75","age":82,"rate":-0.78},{"panel":"f","sigma":"0.75","age":84,"rate":-0.43},{"panel":"f","sigma":"0.75","age":86,"rate":-0.07},{"panel":"f","sigma":"0.75","age":87,"rate":0.13},{"panel":"f","sigma":"0.75","age":88,"rate":0.38},{"panel":"f","sigma":"0.75","age":89,"rate":0.36},
{"panel":"f","sigma":"0.5","age":30,"rate":-6.82},{"panel":"f","sigma":"0.5","age":32,"rate":-6.62},{"panel":"f","sigma":"0.5","age":33,"rate":-6.46},{"panel":"f","sigma":"0.5","age":34,"rate":-6.40},{"panel":"f","sigma":"0.5","age":36,"rate":-6.22},{"panel":"f","sigma":"0.5","age":38,"rate":-6.00},{"panel":"f","sigma":"0.5","age":40,"rate":-5.80},{"panel":"f","sigma":"0.5","age":42,"rate":-5.61},{"panel":"f","sigma":"0.5","age":44,"rate":-5.40},{"panel":"f","sigma":"0.5","age":46,"rate":-5.17},{"panel":"f","sigma":"0.5","age":48,"rate":-4.97},{"panel":"f","sigma":"0.5","age":50,"rate":-4.76},{"panel":"f","sigma":"0.5","age":52,"rate":-4.55},{"panel":"f","sigma":"0.5","age":54,"rate":-4.33},{"panel":"f","sigma":"0.5","age":56,"rate":-4.11},{"panel":"f","sigma":"0.5","age":58,"rate":-3.90},{"panel":"f","sigma":"0.5","age":60,"rate":-3.68},{"panel":"f","sigma":"0.5","age":62,"rate":-3.43},{"panel":"f","sigma":"0.5","age":64,"rate":-3.19},{"panel":"f","sigma":"0.5","age":66,"rate":-2.94},{"panel":"f","sigma":"0.5","age":68,"rate":-2.70},{"panel":"f","sigma":"0.5","age":70,"rate":-2.43},{"panel":"f","sigma":"0.5","age":72,"rate":-2.16},{"panel":"f","sigma":"0.5","age":74,"rate":-1.88},{"panel":"f","sigma":"0.5","age":76,"rate":-1.59},{"panel":"f","sigma":"0.5","age":78,"rate":-1.28},{"panel":"f","sigma":"0.5","age":80,"rate":-0.96},{"panel":"f","sigma":"0.5","age":82,"rate":-0.61},{"panel":"f","sigma":"0.5","age":84,"rate":-0.25},{"panel":"f","sigma":"0.5","age":86,"rate":0.14},{"panel":"f","sigma":"0.5","age":87,"rate":0.37},{"panel":"f","sigma":"0.5","age":88,"rate":0.62},{"panel":"f","sigma":"0.5","age":89,"rate":0.95}
]
},
"columns": 3,
"spacing": 0,
"bounds": "flush",
"resolve": {"scale": {"x": "independent", "y": "independent", "color": "independent", "strokeDash": "independent"}, "legend": {"color": "independent", "strokeDash": "independent"}, "axis": {"x": "independent", "y": "independent"}},
"concat": [
{"width": 641, "height": 561, "layer": [
 {"data": {"name": "lines"}, "transform": [{"filter": "datum.panel == 'a'"}], "mark": {"type": "line", "strokeWidth": 2, "strokeCap": "butt"},
  "encoding": {
   "x": {"field": "age", "type": "quantitative", "scale": {"domain": [27.64, 91.36], "range": [87, 619], "nice": false, "zero": false}, "axis": {"values": [30,40,50,60,70,80,90], "offset": -78.4, "title": "Age", "titleX": 353, "titleY": 63, "labelExpr": "datum.value + ''"}},
   "y": {"field": "rate", "type": "quantitative", "scale": {"domain": [-7.2, -1.8], "range": [482.6, 6.5], "nice": false, "zero": false}, "axis": {"values": [-7,-6,-5,-4,-3,-2], "offset": -87, "title": "Log Group Mortality Rate", "titleX": -63, "titleY": 244.6, "labelExpr": "datum.value + ''"}},
   "color": {"field": "sigma", "type": "nominal", "scale": {"domain": ["1","0.75","0.5"], "range": ["#ff0000","#0000ff","#006400"]}, "legend": {"orient": "none", "legendX": 128, "legendY": 32.7, "title": null, "labelExpr": "'σ² = ' + datum.label"}},
   "strokeDash": {"field": "sigma", "type": "nominal", "scale": {"domain": ["1","0.75","0.5"], "range": [[1,0],[8,6],[2,4.5]]}, "legend": {"orient": "none", "legendX": 128, "legendY": 32.7, "title": null, "labelExpr": "'σ² = ' + datum.label"}}
  }},
 {"data": {"values": [{"box": "a"}]}, "mark": {"type": "rect", "filled": false, "stroke": "black", "strokeWidth": 3},
  "encoding": {"x": {"datum": 27.64, "type": "quantitative", "axis": {"values": [30,40,50,60,70,80,90], "offset": -78.4, "title": "Age", "titleX": 353, "titleY": 63, "labelExpr": "datum.value + ''"}}, "x2": {"datum": 91.36}, "y": {"datum": -7.2, "type": "quantitative", "axis": {"values": [-7,-6,-5,-4,-3,-2], "offset": -87, "title": "Log Group Mortality Rate", "titleX": -63, "titleY": 244.6, "labelExpr": "datum.value + ''"}}, "y2": {"datum": -1.8}}}
]},
{"width": 644, "height": 561, "layer": [
 {"data": {"name": "lines"}, "transform": [{"filter": "datum.panel == 'b'"}], "mark": {"type": "line", "strokeWidth": 2, "strokeCap": "butt"},
  "encoding": {
   "x": {"field": "age", "type": "quantitative", "scale": {"domain": [27.64, 91.36], "range": [87.6, 617], "nice": false, "zero": false}, "axis": {"values": [30,40,50,60,70,80,90], "offset": -80.3, "title": "Age", "titleX": 352.3, "titleY": 63, "labelExpr": "datum.value + ''"}},
   "y": {"field": "rate", "type": "quantitative", "scale": {"domain": [-7.2, -1.82], "range": [480.7, 6.5], "nice": false, "zero": false}, "axis": {"values": [-7,-6,-5,-4,-3,-2], "offset": -87.6, "title": "Log Group Mortality Rate", "titleX": -63, "titleY": 243.6, "labelExpr": "datum.value + ''"}},
   "color": {"field": "sigma", "type": "nominal", "scale": {"domain": ["1","0.75","0.5"], "range": ["#ff0000","#0000ff","#006400"]}, "legend": {"orient": "none", "legendX": 128.3, "legendY": 30.8, "title": null, "labelExpr": "'σ² = ' + datum.label"}},
   "strokeDash": {"field": "sigma", "type": "nominal", "scale": {"domain": ["1","0.75","0.5"], "range": [[1,0],[8,6],[2,4.5]]}, "legend": {"orient": "none", "legendX": 128.3, "legendY": 30.8, "title": null, "labelExpr": "'σ² = ' + datum.label"}}
  }},
 {"data": {"values": [{"box": "b"}]}, "mark": {"type": "rect", "filled": false, "stroke": "black", "strokeWidth": 3},
  "encoding": {"x": {"datum": 27.64, "type": "quantitative", "axis": {"values": [30,40,50,60,70,80,90], "offset": -80.3, "title": "Age", "titleX": 352.3, "titleY": 63, "labelExpr": "datum.value + ''"}}, "x2": {"datum": 91.36}, "y": {"datum": -7.2, "type": "quantitative", "axis": {"values": [-7,-6,-5,-4,-3,-2], "offset": -87.6, "title": "Log Group Mortality Rate", "titleX": -63, "titleY": 243.6, "labelExpr": "datum.value + ''"}}, "y2": {"datum": -1.82}}}
]},
{"width": 626, "height": 561, "layer": [
 {"data": {"name": "lines"}, "transform": [{"filter": "datum.panel == 'c'"}], "mark": {"type": "line", "strokeWidth": 2, "strokeCap": "butt"},
  "encoding": {
   "x": {"field": "age", "type": "quantitative", "scale": {"domain": [27.64, 91.36], "range": [84.9, 598.3], "nice": false, "zero": false}, "axis": {"values": [30,40,50,60,70,80,90], "offset": -94.4, "title": "Age", "titleX": 341.6, "titleY": 63, "labelExpr": "datum.value + ''"}},
   "y": {"field": "rate", "type": "quantitative", "scale": {"domain": [-7.21, -1.59], "range": [466.6, 6.5], "nice": false, "zero": false}, "axis": {"values": [-7,-6,-5,-4,-3,-2], "offset": -84.9, "title": "Log Group Mortality Rate", "titleX": -63, "titleY": 236.6, "labelExpr": "datum.value + ''"}},
   "color": {"field": "sigma", "type": "nominal", "scale": {"domain": ["1","0.75","0.5"], "range": ["#ff0000","#0000ff","#006400"]}, "legend": {"orient": "none", "legendX": 124.7, "legendY": 31.9, "title": null, "labelExpr": "'σ² = ' + datum.label"}},
   "strokeDash": {"field": "sigma", "type": "nominal", "scale": {"domain": ["1","0.75","0.5"], "range": [[1,0],[8,6],[2,4.5]]}, "legend": {"orient": "none", "legendX": 124.7, "legendY": 31.9, "title": null, "labelExpr": "'σ² = ' + datum.label"}}
  }},
 {"data": {"values": [{"box": "c"}]}, "mark": {"type": "rect", "filled": false, "stroke": "black", "strokeWidth": 3},
  "encoding": {"x": {"datum": 27.64, "type": "quantitative", "axis": {"values": [30,40,50,60,70,80,90], "offset": -94.4, "title": "Age", "titleX": 341.6, "titleY": 63, "labelExpr": "datum.value + ''"}}, "x2": {"datum": 91.36}, "y": {"datum": -7.21, "type": "quantitative", "axis": {"values": [-7,-6,-5,-4,-3,-2], "offset": -84.9, "title": "Log Group Mortality Rate", "titleX": -63, "titleY": 236.6, "labelExpr": "datum.value + ''"}}, "y2": {"datum": -1.59}}}
]},
{"width": 641, "height": 37, "data": {"values": [{"cell": "a"}]}, "mark": {"type": "rect", "fillOpacity": 0, "strokeOpacity": 0}, "encoding": {},
 "title": {"text": "(a) Model specification A, Gamma frailty", "orient": "top", "anchor": "start", "frame": "group", "offset": -59, "dx": 14, "baseline": "alphabetic", "font": "Liberation Serif", "fontSize": 30.5, "fontWeight": "normal", "color": "black"}},
{"width": 644, "height": 37, "data": {"values": [{"cell": "b"}]}, "mark": {"type": "rect", "fillOpacity": 0, "strokeOpacity": 0}, "encoding": {},
 "title": {"text": "(b) Model specification A, Weibull frailty", "orient": "top", "anchor": "start", "frame": "group", "offset": -59, "dx": 14, "baseline": "alphabetic", "font": "Liberation Serif", "fontSize": 30.5, "fontWeight": "normal", "color": "black"}},
{"width": 626, "height": 37, "data": {"values": [{"cell": "c"}]}, "mark": {"type": "rect", "fillOpacity": 0, "strokeOpacity": 0}, "encoding": {},
 "title": {"text": "(c) Model specification A, Lognormal frailty", "orient": "top", "anchor": "start", "frame": "group", "offset": -59, "dx": 14, "baseline": "alphabetic", "font": "Liberation Serif", "fontSize": 30.5, "fontWeight": "normal", "color": "black"}},
{"width": 641, "height": 550, "layer": [
 {"data": {"name": "lines"}, "transform": [{"filter": "datum.panel == 'd'"}], "mark": {"type": "line", "strokeWidth": 2, "strokeCap": "butt"},
  "encoding": {
   "x": {"field": "age", "type": "quantitative", "scale": {"domain": [27.64, 91.36], "range": [87.3, 609.6], "nice": false, "zero": false}, "axis": {"values": [30,40,50,60,70,80,90], "offset": -77, "title": "Age", "titleX": 348.5, "titleY": 63, "labelExpr": "datum.value + ''"}},
   "y": {"field": "rate", "type": "quantitative", "scale": {"domain": [-7.28, 0.27], "range": [473, 4.7], "nice": false, "zero": false}, "axis": {"values": [-7,-6,-5,-4,-3,-2,-1,0], "offset": -87.3, "title": "Log Group Mortality Rate", "titleX": -63, "titleY": 238.9, "labelExpr": "datum.value + ''"}},
   "color": {"field": "sigma", "type": "nominal", "scale": {"domain": ["1","0.75","0.5"], "range": ["#ff0000","#0000ff","#006400"]}, "legend": {"orient": "none", "legendX": 127.2, "legendY": 30, "title": null, "labelExpr": "'σ² = ' + datum.label"}},
   "strokeDash": {"field": "sigma", "type": "nominal", "scale": {"domain": ["1","0.75","0.5"], "range": [[1,0],[8,6],[2,4.5]]}, "legend": {"orient": "none", "legendX": 127.2, "legendY": 30, "title": null, "labelExpr": "'σ² = ' + datum.label"}}
  }},
 {"data": {"values": [{"box": "d"}]}, "mark": {"type": "rect", "filled": false, "stroke": "black", "strokeWidth": 3},
  "encoding": {"x": {"datum": 27.64, "type": "quantitative", "axis": {"values": [30,40,50,60,70,80,90], "offset": -77, "title": "Age", "titleX": 348.5, "titleY": 63, "labelExpr": "datum.value + ''"}}, "x2": {"datum": 91.36}, "y": {"datum": -7.28, "type": "quantitative", "axis": {"values": [-7,-6,-5,-4,-3,-2,-1,0], "offset": -87.3, "title": "Log Group Mortality Rate", "titleX": -63, "titleY": 238.9, "labelExpr": "datum.value + ''"}}, "y2": {"datum": 0.27}}}
]},
{"width": 644, "height": 550, "layer": [
 {"data": {"name": "lines"}, "transform": [{"filter": "datum.panel == 'e'"}], "mark": {"type": "line", "strokeWidth": 2, "strokeCap": "butt"},
  "encoding": {
   "x": {"field": "age", "type": "quantitative", "scale": {"domain": [27.64, 91.36], "range": [86.3, 609.5], "nice": false, "zero": false}, "axis": {"values": [30,40,50,60,70,80,90], "offset": -74.2, "title": "Age", "titleX": 347.9, "titleY": 63, "labelExpr": "datum.value + ''"}},
   "y": {"field": "rate", "type": "quantitative", "scale": {"domain": [-7.28, 0.28], "range": [475.8, 6.7], "nice": false, "zero": false}, "axis": {"values": [-7,-6,-5,-4,-3,-2,-1,0], "offset": -86.3, "title": "Log Group Mortality Rate", "titleX": -63, "titleY": 241.3, "labelExpr": "datum.value + ''"}},
   "color": {"field": "sigma", "type": "nominal", "scale": {"domain": ["1","0.75","0.5"], "range": ["#ff0000","#0000ff","#006400"]}, "legend": {"orient": "none", "legendX": 126.2, "legendY": 32.4, "title": null, "labelExpr": "'σ² = ' + datum.label"}},
   "strokeDash": {"field": "sigma", "type": "nominal", "scale": {"domain": ["1","0.75","0.5"], "range": [[1,0],[8,6],[2,4.5]]}, "legend": {"orient": "none", "legendX": 126.2, "legendY": 32.4, "title": null, "labelExpr": "'σ² = ' + datum.label"}}
  }},
 {"data": {"values": [{"box": "e"}]}, "mark": {"type": "rect", "filled": false, "stroke": "black", "strokeWidth": 3},
  "encoding": {"x": {"datum": 27.64, "type": "quantitative", "axis": {"values": [30,40,50,60,70,80,90], "offset": -74.2, "title": "Age", "titleX": 347.9, "titleY": 63, "labelExpr": "datum.value + ''"}}, "x2": {"datum": 91.36}, "y": {"datum": -7.28, "type": "quantitative", "axis": {"values": [-7,-6,-5,-4,-3,-2,-1,0], "offset": -86.3, "title": "Log Group Mortality Rate", "titleX": -63, "titleY": 241.3, "labelExpr": "datum.value + ''"}}, "y2": {"datum": 0.28}}}
]},
{"width": 626, "height": 550, "layer": [
 {"data": {"name": "lines"}, "transform": [{"filter": "datum.panel == 'f'"}], "mark": {"type": "line", "strokeWidth": 2, "strokeCap": "butt"},
  "encoding": {
   "x": {"field": "age", "type": "quantitative", "scale": {"domain": [27.64, 91.36], "range": [85, 600], "nice": false, "zero": false}, "axis": {"values": [30,40,50,60,70,80,90], "offset": -82, "title": "Age", "titleX": 342.5, "titleY": 63, "labelExpr": "datum.value + ''"}},
   "y": {"field": "rate", "type": "quantitative", "scale": {"domain": [-7.3, 1.31], "range": [468, 7], "nice": false, "zero": false}, "axis": {"values": [-6,-4,-2,0], "offset": -85, "title": "Log Group Mortality Rate", "titleX": -63, "titleY": 237.5, "labelExpr": "datum.value + ''"}},
   "color": {"field": "sigma", "type": "nominal", "scale": {"domain": ["1","0.75","0.5"], "range": ["#ff0000","#0000ff","#006400"]}, "legend": {"orient": "none", "legendX": 124.7, "legendY": 31.2, "title": null, "labelExpr": "'σ² = ' + datum.label"}},
   "strokeDash": {"field": "sigma", "type": "nominal", "scale": {"domain": ["1","0.75","0.5"], "range": [[1,0],[8,6],[2,4.5]]}, "legend": {"orient": "none", "legendX": 124.7, "legendY": 31.2, "title": null, "labelExpr": "'σ² = ' + datum.label"}}
  }},
 {"data": {"values": [{"box": "f"}]}, "mark": {"type": "rect", "filled": false, "stroke": "black", "strokeWidth": 3},
  "encoding": {"x": {"datum": 27.64, "type": "quantitative", "axis": {"values": [30,40,50,60,70,80,90], "offset": -82, "title": "Age", "titleX": 342.5, "titleY": 63, "labelExpr": "datum.value + ''"}}, "x2": {"datum": 91.36}, "y": {"datum": -7.3, "type": "quantitative", "axis": {"values": [-6,-4,-2,0], "offset": -85, "title": "Log Group Mortality Rate", "titleX": -63, "titleY": 237.5, "labelExpr": "datum.value + ''"}}, "y2": {"datum": 1.31}}}
]},
{"width": 641, "height": 37, "data": {"values": [{"cell": "d"}]}, "mark": {"type": "rect", "fillOpacity": 0, "strokeOpacity": 0}, "encoding": {},
 "title": {"text": "(d) Model specification B, Gamma frailty", "orient": "top", "anchor": "start", "frame": "group", "offset": -59, "dx": 14, "baseline": "alphabetic", "font": "Liberation Serif", "fontSize": 30.5, "fontWeight": "normal", "color": "black"}},
{"width": 644, "height": 37, "data": {"values": [{"cell": "e"}]}, "mark": {"type": "rect", "fillOpacity": 0, "strokeOpacity": 0}, "encoding": {},
 "title": {"text": "(e) Model specification B, Weibull frailty", "orient": "top", "anchor": "start", "frame": "group", "offset": -59, "dx": 14, "baseline": "alphabetic", "font": "Liberation Serif", "fontSize": 30.5, "fontWeight": "normal", "color": "black"}},
{"width": 626, "height": 37, "data": {"values": [{"cell": "f"}]}, "mark": {"type": "rect", "fillOpacity": 0, "strokeOpacity": 0}, "encoding": {},
 "title": {"text": "(f) Model specification B, Lognormal frailty", "orient": "top", "anchor": "start", "frame": "group", "offset": -59, "dx": 14, "baseline": "alphabetic", "font": "Liberation Serif", "fontSize": 30.5, "fontWeight": "normal", "color": "black"}}
],
"config": {
 "view": {"stroke": "black", "strokeWidth": 1},
 "concat": {"spacing": 0},
 "axis": {"domain": false, "grid": false, "ticks": true, "tickSize": 9, "tickColor": "black", "tickWidth": 1, "labelColor": "black", "labelFont": "Liberation Sans", "labelFontSize": 15, "titleFont": "Liberation Sans", "titleFontSize": 15, "titleFontWeight": "normal", "titleColor": "black", "labelFlush": false, "labelOverlap": false},
 "axisX": {"labelAngle": 0, "labelBaseline": "middle", "labelAlign": "center", "labelPadding": 19, "titleBaseline": "middle", "titleAlign": "center"},
 "axisY": {"labelAngle": 270, "labelAlign": "center", "labelBaseline": "middle", "labelPadding": 18, "titleAngle": 270, "titleBaseline": "middle", "titleAlign": "center"},
 "legend": {"symbolType": "M-1.9,0H1.9", "symbolSize": 484, "symbolStrokeWidth": 2, "symbolFillColor": "transparent", "labelFont": "Liberation Sans", "labelFontSize": 21.5, "labelColor": "black", "labelOffset": 31, "padding": 0, "rowPadding": 4, "labelLimit": 300}
}
}
